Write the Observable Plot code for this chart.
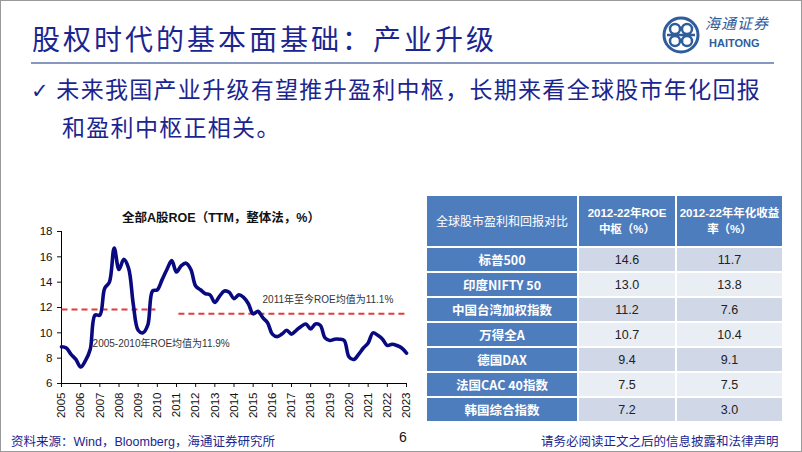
<!DOCTYPE html>
<html><head><meta charset="utf-8">
<script src="https://cdn.jsdelivr.net/npm/d3@7"></script>
<script src="https://cdn.jsdelivr.net/npm/@observablehq/plot@0.6"></script>
<style>
html,body{margin:0;padding:0;background:#fff;}
#slide{position:relative;width:802px;height:452px;box-sizing:border-box;border:1px solid #9a9a9a;overflow:hidden;font-family:"Liberation Sans","Noto Sans CJK SC",sans-serif;}
.abs{position:absolute;white-space:nowrap;}
#title{left:31px;top:20px;font-family:"Noto Sans CJK SC";font-size:28px;letter-spacing:3px;color:#1b2590;line-height:34px;}
#rule{left:30px;top:61px;width:743px;height:2px;background:#8797bf;}
.bul{font-family:"Noto Sans CJK SC";font-size:23px;letter-spacing:1.3px;color:#1b2590;line-height:30px;}
#ctitle{left:60px;top:206px;width:320px;text-align:center;font-size:12.5px;font-weight:bold;color:#111;}
#chart{left:20px;top:205px;}
table{position:absolute;left:426px;top:195px;border-collapse:separate;border-spacing:0;}
td,th{padding:0;text-align:center;font-size:12.5px;white-space:nowrap;}
th{background:#4e7dbd;color:#fff;height:50px;font-weight:bold;font-size:11.5px;line-height:16px;border-right:2px solid #fff;}
td.n{background:#4e7dbd;color:#fff;font-weight:bold;font-family:"Noto Sans CJK SC","Liberation Sans";width:150px;}
td{height:23px;border-top:2px solid #fff;border-right:2px solid #fff;color:#222;}
tr.odd td.v{background:#d0d8e8;}
tr.even td.v{background:#e9edf4;}
.foot{top:430px;font-size:12.5px;color:#1b2590;}
</style></head>
<body>
<div id="slide">
  <div id="title" class="abs">股权时代的基本面基础：产业升级</div>
  <div id="logo" class="abs" style="left:660px;top:14px;">
    <svg width="40" height="40" viewBox="0 0 40 40">
      <circle cx="20" cy="20" r="17" fill="none" stroke="#2f5d9c" stroke-width="3"/>
      <circle cx="14" cy="14" r="5" fill="none" stroke="#2f5d9c" stroke-width="2.5"/>
      <circle cx="26" cy="14" r="5" fill="none" stroke="#2f5d9c" stroke-width="2.5"/>
      <circle cx="14" cy="26" r="5" fill="none" stroke="#2f5d9c" stroke-width="2.5"/>
      <circle cx="26" cy="26" r="5" fill="none" stroke="#2f5d9c" stroke-width="2.5"/>
      <line x1="6" y1="20" x2="34" y2="20" stroke="#2f5d9c" stroke-width="2.5"/>
    </svg>
  </div>
  <div class="abs" style="left:704px;top:12px;font-family:'Noto Sans CJK SC';font-size:15px;line-height:20px;color:#2f5d9c;letter-spacing:1px;font-style:italic;">海通证券</div>
  <div class="abs" style="left:708px;top:36px;font-size:11px;line-height:13px;font-weight:bold;color:#2f5d9c;">HAITONG</div>
  <div id="rule" class="abs"></div>
  <div class="abs bul" style="left:30px;top:72px;"><span style="font-family:'DejaVu Sans';font-size:21px;">✓</span> 未来我国产业升级有望推升盈利中枢，长期来看全球股市年化回报</div>
  <div class="abs bul" style="left:61px;top:110px;">和盈利中枢正相关。</div>
  <div id="ctitle" class="abs">全部A股ROE（TTM，整体法，%）</div>
  <div id="chart" class="abs"></div>
  <div id="tbl"></div>
  <div class="abs foot" style="left:10px;">资料来源：Wind，Bloomberg，海通证券研究所</div>
  <div class="abs foot" style="left:398px;color:#111;font-size:14px;top:428px;">6</div>
  <div class="abs foot" style="left:540px;">请务必阅读正文之后的信息披露和法律声明</div>
</div>
<script>
// Quarterly ROE (TTM), 2005Q1 .. 2023Q1
const roeTime = d3.range(0, 73).map(i => 2005 + i * 0.25);
const roeValues = [
  8.9, 8.8, 8.3, 7.9,
  7.3, 7.8, 8.7, 11.4,
  11.4, 13.5, 14.0, 16.7,
  15.0, 15.8, 15.1, 12.2,
  10.2, 10.0, 10.6, 13.3,
  13.4, 14.2, 15.0, 15.7,
  14.8, 15.3, 15.5, 15.0,
  13.7, 13.4, 13.1, 13.0,
  12.4, 12.9, 13.3, 13.2,
  12.7, 13.0, 12.8, 12.3,
  11.5, 11.7, 11.2, 10.8,
  9.9, 9.7, 9.9, 10.2,
  9.9, 10.2, 10.5, 10.7,
  10.3, 10.7, 10.6, 9.6,
  9.4, 9.5, 9.5, 9.4,
  8.1, 7.9, 8.3, 8.8,
  9.2, 10.0, 9.8, 9.5,
  9.0, 9.1, 9.0, 8.8,
  8.4
];
const avgLabels = ["2005-2010年ROE均值为11.9%", "2011年至今ROE均值为11.1%"];
const avgStart = [2005, 2011.1];
const avgEnd = [2009.9, 2023];
const avgLevel = [11.85, 11.5];
const labelX = [2010.2, 2018.9];
const labelY = [9.1, 12.6];
const yearTicks = d3.range(2005, 2024);
const yTicks = [6, 8, 10, 12, 14, 16, 18];

const tableHeader = ["全球股市盈利和回报对比", "2012-22年ROE<br>中枢（%）", "2012-22年年化收益<br>率（%）"];
const markets = ["标普500", "印度NIFTY 50", "中国台湾加权指数", "万得全A", "德国DAX", "法国CAC 40指数", "韩国综合指数"];
const roeCenter = ["14.6", "13.0", "11.2", "10.7", "9.4", "7.5", "7.2"];
const annReturn = ["11.7", "13.8", "7.6", "10.4", "9.1", "7.5", "3.0"];

const series = roeTime.map((t, i) => ({t, v: roeValues[i]}));
const avgs = avgLabels.map((l, i) => ({l, x1: avgStart[i], x2: avgEnd[i], y: avgLevel[i], lx: labelX[i], ly: labelY[i]}));

const chart = Plot.plot({
  width: 400, height: 225,
  marginLeft: 40, marginRight: 15, marginTop: 25, marginBottom: 48,
  style: {fontFamily: "Liberation Sans, sans-serif", fontSize: "11.5px", color: "#111", background: "transparent"},
  x: {domain: [2005, 2023], ticks: yearTicks, tickFormat: d => String(d), tickRotate: -90, tickSize: 4, label: null},
  y: {domain: [6, 18], ticks: yTicks, tickSize: 4, label: null},
  marks: [
    Plot.ruleX([2005], {stroke: "#000"}),
    Plot.ruleY([6], {stroke: "#000"}),
    Plot.link(avgs, {x1: "x1", x2: "x2", y1: "y", y2: "y", stroke: "#e23b3b", strokeWidth: 2, strokeDasharray: "6,4"}),
    Plot.line(series, {x: "t", y: "v", stroke: "#0a0a80", strokeWidth: 3.6, curve: "catmull-rom"}),
    Plot.text(avgs, {x: "lx", y: "ly", text: "l", fill: "#333", fontSize: 10, fontFamily: "Liberation Sans, Noto Sans CJK SC"})
  ]
});
document.getElementById("chart").appendChild(chart);

let html = "<table><tr>" + tableHeader.map((h, i) => `<th style="width:${i===0?150:(i===1?96:105)}px;${i===0?'font-weight:normal;font-size:12px;font-family:Noto Sans CJK SC;':''}">${h}</th>`).join("") + "</tr>";
markets.forEach((m, i) => {
  html += `<tr class="${i % 2 === 0 ? 'odd' : 'even'}"><td class="n">${m}</td><td class="v">${roeCenter[i]}</td><td class="v">${annReturn[i]}</td></tr>`;
});
html += "</table>";
document.getElementById("tbl").innerHTML = html;
</script>
</body></html>
